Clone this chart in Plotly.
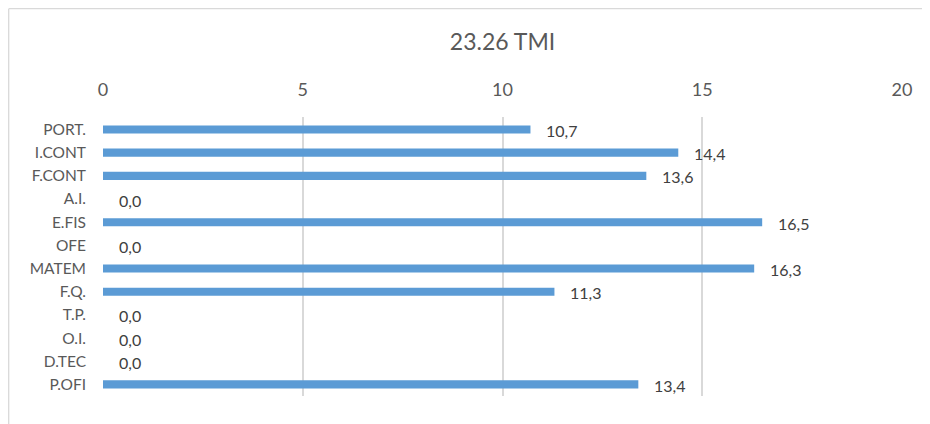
import plotly.graph_objects as go

categories = ["PORT.", "I.CONT", "F.CONT", "A.I.", "E.FIS", "OFE", "MATEM", "F.Q.", "T.P.", "O.I.", "D.TEC", "P.OFI"]
values = [10.7, 14.4, 13.6, 0.0, 16.5, 0.0, 16.3, 11.3, 0.0, 0.0, 0.0, 13.4]
title_text = "23.26 TMI"
x_ticks = [0, 5, 10, 15, 20]

FONT = "Lato"

fig = go.Figure()
fig.add_trace(go.Bar(
    x=values, y=categories, orientation="h",
    marker=dict(color="#5b9bd5", line=dict(width=0)),
    width=0.35, hoverinfo="x+y",
))

for c, v in zip(categories, values):
    fig.add_annotation(
        x=v, y=c, xref="x", yref="y",
        text=f"{v:.1f}".replace(".", ","),
        showarrow=False, xanchor="left", yanchor="middle",
        xshift=14, yshift=-1,
        font=dict(family=FONT, size=16, color="#404040"),
    )

# page body adds an 8px offset; figure is sized so the plot area lands where the reference has it
W, H = 922, 416
L, R, T, B = 95, 28, 109, 28
pw, ph = W - L - R, H - T - B

def px_to_paper_x(px):
    return (px - L) / pw

def px_to_paper_y(py):
    return (H - B - py) / ph

border = dict(color="#d9d9d9", width=1.3)
# left edge of the chart frame
fig.add_shape(type="line", xref="paper", yref="paper", layer="below",
              x0=px_to_paper_x(0.7), x1=px_to_paper_x(0.7),
              y0=px_to_paper_y(H + 10), y1=px_to_paper_y(0.7), line=border)
# top edge of the chart frame
fig.add_shape(type="line", xref="paper", yref="paper", layer="below",
              x0=px_to_paper_x(0.7), x1=px_to_paper_x(W + 10),
              y0=px_to_paper_y(0.7), y1=px_to_paper_y(0.7), line=border)

fig.update_layout(
    width=W, height=H,
    margin=dict(l=L, r=R, t=T, b=B),
    paper_bgcolor="white", plot_bgcolor="white",
    title=dict(text=title_text, x=0.5, xref="paper", xanchor="center",
               y=1 - 34 / H, yanchor="middle",
               font=dict(family=FONT, size=23, color="#595959")),
    showlegend=False,
    xaxis=dict(
        range=[0, 20], side="top", tickvals=x_ticks,
        showgrid=True, gridcolor="#d9d9d9", gridwidth=1.5,
        zeroline=False, showline=False, ticks="",
        ticklabelstandoff=16,
        tickfont=dict(family=FONT, size=18, color="#595959"),
        fixedrange=True,
    ),
    yaxis=dict(
        autorange="reversed", showgrid=False, zeroline=False, showline=False,
        ticks="", ticklabelstandoff=16,
        tickfont=dict(family=FONT, size=15.5, color="#595959"),
        fixedrange=True,
    ),
)

fig.write_html("out.html")
